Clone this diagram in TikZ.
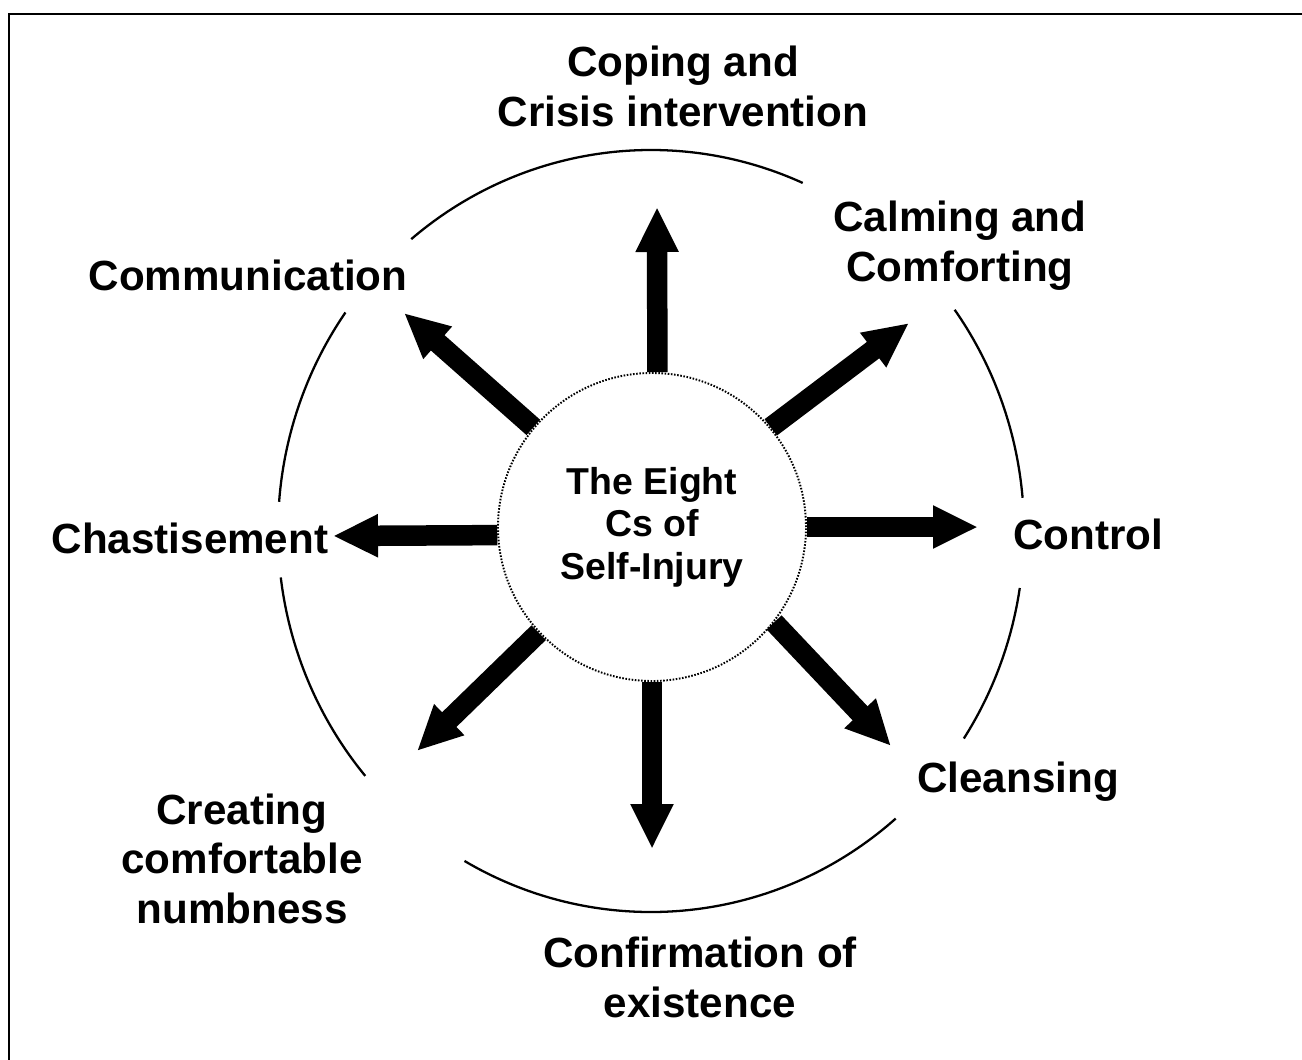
\documentclass[tikz,border=0pt]{standalone}
\usepackage{fontspec}
\setmainfont{Liberation Sans}
\usetikzlibrary{arrows.meta}

\begin{document}
\begin{tikzpicture}[auto,
    hub/.style ={circle, draw, line width=1.1pt, dash pattern=on 0.9pt off 0.9pt,
      minimum size=6.16cm, inner sep=0pt, align=center,
      font=\fontsize{21.3}{24.2}\selectfont\bfseries},
    reason/.style ={anchor=base, align=center, font=\fontsize{24}{28}\selectfont\bfseries},
    push/.style ={line width=0.41cm, -{Triangle[length=0.9cm,width=0.8cm]}},
    ring/.style ={line width=1.3pt}]
   \useasboundingbox (-13.02,-10.56) rectangle (13.02,10.62);
   \draw[line width=1.4pt] (-12.84,-10.7) -- (-12.84,10.34) -- (13.2,10.34);
   \node[hub] (core) at (0.02,0.08) {The Eight\\Cs of\\Self-Injury};
   % multi-line labels sit on their last baseline
   \node[reason] (coping) at (0.64,8.10) {Coping and\\Crisis intervention};
   \node[reason] (calming) at (6.18,5.00) {Calming and\\Comforting};
   \node[reason] (control) at (8.74,-0.36) {Control};
   \node[reason] (cleansing) at (7.34,-5.22) {Cleansing};
   \node[reason] (confirm) at (0.98,-9.72) {Confirmation of\\existence};
   \node[reason] (creating) at (-8.18,-7.84) {Creating\\comfortable\\numbness};
   \node[reason] (chastise) at (-9.22,-0.44) {Chastisement};
   \node[reason] (communic) at (-8.06,4.82) {Communication};
   % arrow tips
   \coordinate (tcoping) at (0.12,6.48);
   \coordinate (tcalming) at (5.16,4.16);
   \coordinate (tcontrol) at (6.54,0.08);
   \coordinate (tcleansing) at (4.80,-4.30);
   \coordinate (tconfirm) at (0.02,-6.36);
   \coordinate (tcreating) at (-4.68,-4.40);
   \coordinate (tchastise) at (-6.36,-0.10);
   \coordinate (tcommunic) at (-4.94,4.36);
   \draw[push] (core.88) to (tcoping);
   \draw[push] (core.40) to (tcalming);
   \draw[push] (core.0) to (tcontrol);
   \draw[push] (core.-38) to (tcleansing);
   \draw[push] (core.-90) to (tconfirm);
   \draw[push] (core.223) to (tcreating);
   \draw[push] (core.183) to (tchastise);
   \draw[push] (core.140) to (tcommunic);
   % outer ring, broken at the labels
   \draw[ring] (66:7.46 and 7.62) arc[start angle=66, end angle=130, x radius=7.46, y radius=7.62];
   \draw[ring] (5:7.46 and 7.62) arc[start angle=5, end angle=35.5, x radius=7.46, y radius=7.62];
   \draw[ring] (-33:7.46 and 7.62) arc[start angle=-33, end angle=-8.6, x radius=7.46, y radius=7.62];
   \draw[ring] (-120:7.46 and 7.62) arc[start angle=-120, end angle=-49, x radius=7.46, y radius=7.62];
   \draw[ring] (187:7.46 and 7.62) arc[start angle=187, end angle=220, x radius=7.46, y radius=7.62];
   \draw[ring] (145:7.46 and 7.62) arc[start angle=145, end angle=175.6, x radius=7.46, y radius=7.62];
 \end{tikzpicture}
\end{document}
